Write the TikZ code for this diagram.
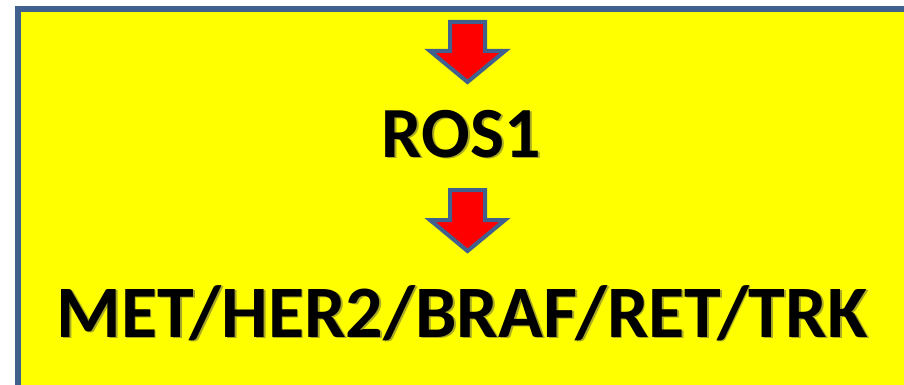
\documentclass[tikz,border=0pt]{standalone}
\usepackage{fontspec}
\setmainfont{Carlito}
\definecolor{frameblue}{RGB}{64,97,142}
\definecolor{bgyellow}{RGB}{255,255,0}
\definecolor{arrowred}{RGB}{255,0,0}
\definecolor{shadowcol}{RGB}{170,170,40}
\newcommand{\shadowed}[1]{\makebox[0pt][l]{\kern1.8pt\raisebox{-1.8pt}{\textcolor{shadowcol}{#1}}}#1}
\tikzset{
  blockarrow/.style={draw=frameblue, fill=arrowred, line width=4pt, line join=miter},
  bigtext/.style={font=\bfseries\fontsize{#1}{#1}\selectfont, text=black, inner sep=0pt}
}
\begin{document}
\begin{tikzpicture}[x=1pt,y=-1pt]
\useasboundingbox (0,0) rectangle (904,385);
\clip (0,0) rectangle (904,385);
\fill[white] (0,0) rectangle (904,385);
\draw[frameblue, fill=bgyellow, line width=6pt] (17.5,9.5) rectangle (930,410);
% arrows
\draw[blockarrow] (450,22) -- (485,22) -- (485,51) -- (505,51) -- (467.5,82) -- (430,51) -- (450,51) -- cycle;
\draw[blockarrow] (450,190) -- (485,190) -- (485,220) -- (505,220) -- (467.5,251) -- (430,220) -- (450,220) -- cycle;
% text
\node[bigtext=72, anchor=base] (ros) at (461.5,157) {\shadowed{ROS1}};
\node[bigtext=74, anchor=base] (met) at (462,337) {\shadowed{MET/HER2/BRAF/RET/TRK}};
\end{tikzpicture}
\end{document}
